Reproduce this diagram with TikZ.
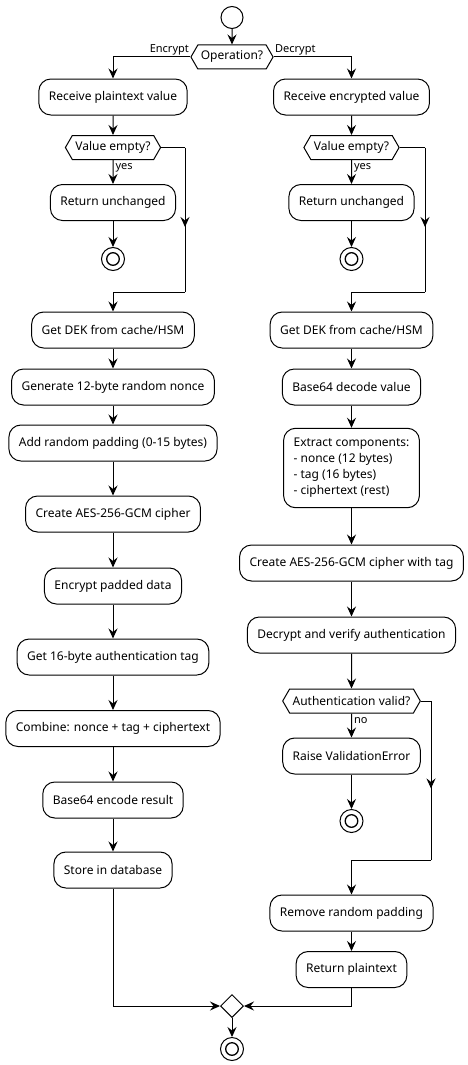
\documentclass[tikz,border=0pt]{standalone}
\usepackage{fontspec}
\setmainfont{Noto Sans}
\usetikzlibrary{arrows.meta,shapes.symbols,shapes.geometric,decorations.markings}

\tikzset{
  act/.style={draw, rounded corners=12pt, minimum height=36pt, inner xsep=10pt,
    font=\fontsize{12}{16}\selectfont},
  cond/.style={draw, shape=signal, signal to=east and west, signal pointer angle=120,
    minimum height=24pt, inner xsep=3pt, inner ysep=2pt, font=\fontsize{12}{16}\selectfont},
  lbl/.style={inner sep=1pt, font=\fontsize{11}{13}\selectfont},
  flow/.style={-{Stealth[length=10pt,width=9pt,inset=3.5pt]}},
  midflow/.style={postaction={decorate}, decoration={markings,
    mark=at position 0.55 with {\arrow{Stealth[length=10pt,width=9pt,inset=3.5pt]}}}},
  startdot/.style={draw, circle, minimum size=22pt, inner sep=0pt},
  stopdot/.style={draw, circle, minimum size=23pt, inner sep=0pt,
    path picture={\draw[line width=1.3pt] (path picture bounding box.center) circle (6.3pt);}},
}

\begin{document}
\begin{tikzpicture}[x=1pt, y=-1pt, line width=1pt]
    \useasboundingbox (0,0) rectangle (468,1065);

    % Nodes
    \node[startdot] at (232,17.5) (start) {};
    \node[cond] at (232,57) (op) {Operation?};
    \node[lbl, anchor=south east] at (op.west) (encL) {Encrypt};
    \node[lbl, anchor=south west] at (op.east) (decL) {Decrypt};

    % Encrypt side
    \node[act] at (113,97) (recvP) {Receive plaintext value};
    \node[cond] at (113,147.5) (emptyP) {Value empty?};
    \node[act] at (113,202.5) (retP) {Return unchanged};
    \node[stopdot] at (113,259) (stopP) {};
    \coordinate (byP) at (185,292);
    \node[act] at (113,330) (dekP) {Get DEK from cache/HSM};
    \node[act] at (113,387) (nonce) {Generate 12-byte random nonce};
    \node[act] at (113,443) (pad) {Add random padding (0-15 bytes)};
    \node[act] at (113,514) (cipherE) {Create AES-256-GCM cipher};
    \node[act] at (113,586) (encrypt) {Encrypt padded data};
    \node[act] at (113,657) (tagE) {Get 16-byte authentication tag};
    \node[act] at (113,728.5) (combine) {Combine: nonce + tag + ciphertext};
    \node[act] at (113,800) (encode) {Base64 encode result};
    \node[act] at (113,870) (store) {Store in database};

    % Decrypt side
    \node[act] at (351.5,97) (recvE) {Receive encrypted value};
    \node[cond] at (351.5,147.5) (emptyE) {Value empty?};
    \node[act] at (351.5,202.5) (retE) {Return unchanged};
    \node[stopdot] at (351.5,259) (stopE) {};
    \coordinate (byE) at (425,292);
    \node[act] at (351.5,330) (dekE) {Get DEK from cache/HSM};
    \node[act] at (351.5,387) (decode) {Base64 decode value};
    \node[act, align=left, inner ysep=10pt] at (351.5,468) (extract) {Extract components:\\- nonce (12 bytes)\\- tag (16 bytes)\\- ciphertext (rest)};
    \node[act] at (351.5,563) (cipherD) {Create AES-256-GCM cipher with tag};
    \node[act] at (351.5,635) (decrypt) {Decrypt and verify authentication};
    \node[cond] at (351.5,701) (auth) {Authentication valid?};
    \node[act] at (351.5,756) (raise) {Raise ValidationError};
    \node[stopdot] at (351.5,821) (stopD) {};
    \coordinate (byA) at (431,860);
    \node[act] at (351.5,913) (unpad) {Remove random padding};
    \node[act] at (351.5,969.5) (retPlain) {Return plaintext};

    % Merge and end
    \node[draw, diamond, minimum width=23pt, minimum height=23pt, inner sep=0pt] at (232,1006) (merge) {};
    \node[stopdot] at (232,1049) (stopAll) {};

    % Arrows and labels
    \draw[flow] (start) -- (op);
    \draw[flow] (op.west) -| (recvP.north);
    \draw[flow] (op.east) -| (recvE.north);

    \draw[flow] (recvP) -- (emptyP);
    \draw[flow] (emptyP) -- (retP) node[lbl, pos=0.1, anchor=north west, xshift=1pt] (yesP) {yes};
    \draw[flow] (retP) -- (stopP);
    \draw (emptyP.east) -- (emptyP.east -| byP);
    \draw[midflow] (emptyP.east -| byP) -- (byP);
    \draw[flow] (byP) -| (dekP.north);
    \draw[flow] (dekP) -- (nonce);
    \draw[flow] (nonce) -- (pad);
    \draw[flow] (pad) -- (cipherE);
    \draw[flow] (cipherE) -- (encrypt);
    \draw[flow] (encrypt) -- (tagE);
    \draw[flow] (tagE) -- (combine);
    \draw[flow] (combine) -- (encode);
    \draw[flow] (encode) -- (store);
    \draw[flow] (store) |- (merge.west);

    \draw[flow] (recvE) -- (emptyE);
    \draw[flow] (emptyE) -- (retE) node[lbl, pos=0.1, anchor=north west, xshift=1pt] (yesE) {yes};
    \draw[flow] (retE) -- (stopE);
    \draw (emptyE.east) -- (emptyE.east -| byE);
    \draw[midflow] (emptyE.east -| byE) -- (byE);
    \draw[flow] (byE) -| (dekE.north);
    \draw[flow] (dekE) -- (decode);
    \draw[flow] (decode) -- (extract);
    \draw[flow] (extract) -- (cipherD);
    \draw[flow] (cipherD) -- (decrypt);
    \draw[flow] (decrypt) -- (auth);
    \draw[flow] (auth) -- (raise) node[lbl, pos=0.1, anchor=north west, xshift=1pt] (noL) {no};
    \draw[flow] (raise) -- (stopD);
    \draw (auth.east) -- (auth.east -| byA);
    \draw[midflow] (auth.east -| byA) -- (byA);
    \draw[flow] (byA) -| (unpad.north);
    \draw[flow] (unpad) -- (retPlain);
    \draw[flow] (retPlain) |- (merge.east);

    \draw[flow] (merge) -- (stopAll);
\end{tikzpicture}
\end{document}
